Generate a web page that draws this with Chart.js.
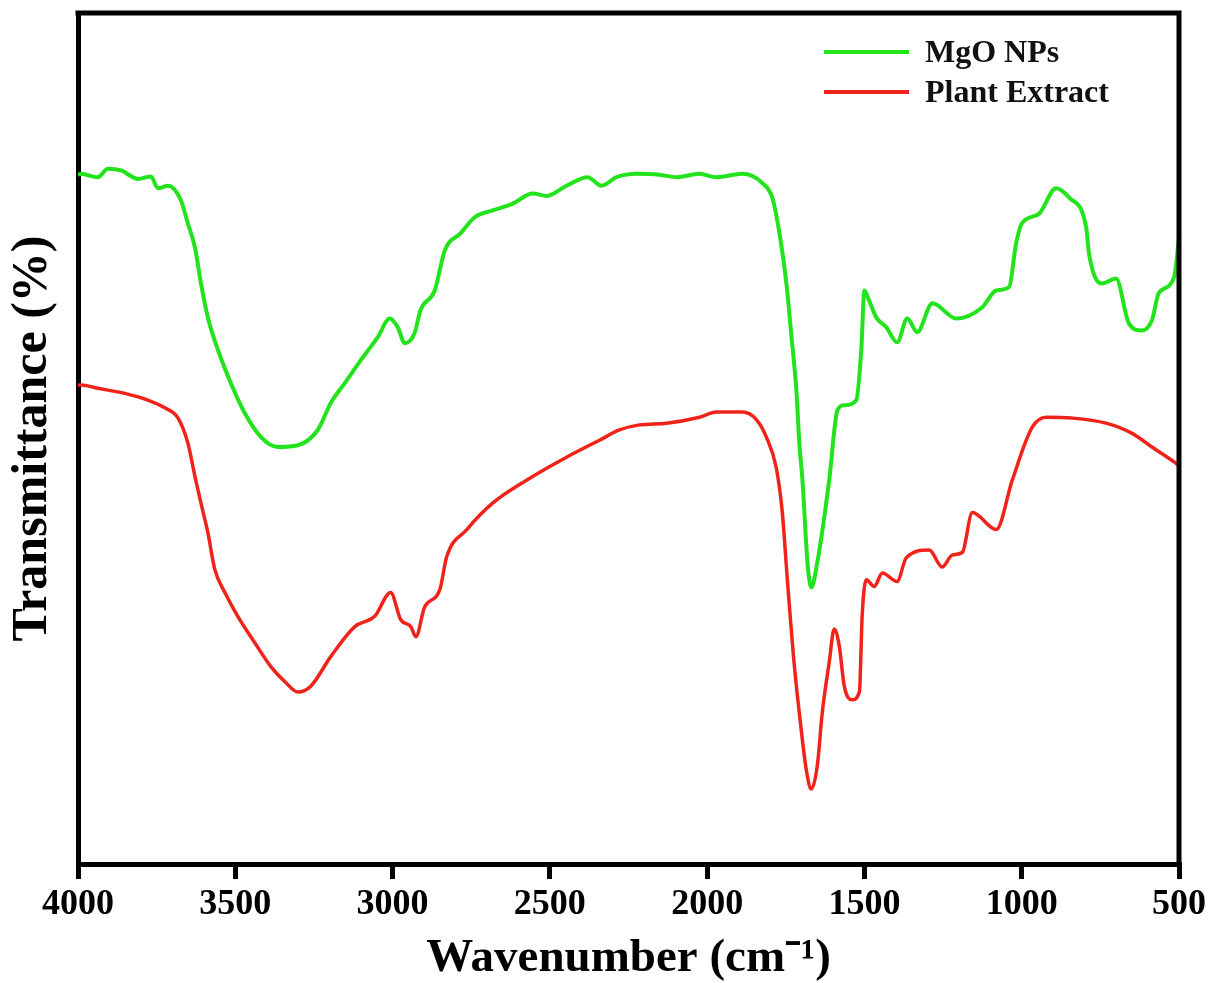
<!DOCTYPE html>
<html>
<head>
<meta charset="utf-8">
<script src="https://cdn.jsdelivr.net/npm/chart.js@4.4.1/dist/chart.umd.min.js"></script>
<style>
  body { margin: 0; background: #fff; }
  #wrap { width: 1210px; height: 983px; }
</style>
</head>
<body>
<div id="wrap"><canvas id="ftirChart" width="1210" height="983"></canvas></div>
<script>
// FTIR spectra, values (transmittance in arbitrary units, 0-100)
const xTicks = [4000, 3500, 3000, 2500, 2000, 1500, 1000, 500];
const seriesNames = ["MgO NPs", "Plant Extract"];

const mgoWave = [4000, 3990, 3937, 3905, 3863, 3809, 3768, 3746, 3714, 3673, 3651, 3628, 3609, 3587, 3555,
  3514, 3470, 3419, 3365, 3301, 3238, 3196, 3152, 3101, 3047, 3009, 2984, 2961, 2930, 2911, 2866, 2834,
  2784, 2739, 2682, 2618, 2555, 2510, 2447, 2380, 2336, 2288, 2225, 2152, 2098, 2024, 1971, 1888, 1824,
  1793, 1770, 1748, 1732, 1716, 1707, 1697, 1681, 1669, 1650, 1612, 1586, 1564, 1526, 1510, 1500, 1485,
  1462, 1431, 1396, 1364, 1332, 1284, 1208, 1126, 1081, 1040, 1018, 999, 945, 891, 849, 795, 786, 745,
  700, 659, 618, 586, 564, 516, 500];
const mgoT = [81.0, 81.1, 80.7, 81.7, 81.5, 80.5, 80.8, 79.4, 79.7, 78.0, 75.3, 72.4, 68.2, 64.2, 60.4,
  56.5, 53.0, 50.2, 49.0, 49.2, 51.0, 54.2, 56.5, 59.2, 61.9, 64.1, 63.1, 61.2, 62.4, 65.1, 67.4, 72.1,
  74.1, 76.0, 76.8, 77.6, 78.8, 78.5, 79.7, 80.7, 79.7, 80.7, 81.1, 81.0, 80.7, 81.1, 80.7, 81.1, 80.0,
  78.3, 74.1, 68.2, 62.0, 55.5, 49.5, 45.1, 35.4, 32.5, 35.4, 45.1, 53.3, 53.9, 54.5, 60.4, 67.4, 66.2,
  64.2, 63.1, 61.3, 64.1, 62.5, 65.9, 64.1, 65.4, 67.4, 67.8, 72.9, 75.3, 76.4, 79.4, 78.3, 74.8, 71.7, 68.2,
  68.8, 63.5, 62.7, 63.9, 67.1, 68.9, 73.5];

const extractWave = [4000, 3990, 3937, 3851, 3778, 3724, 3682, 3651, 3628, 3609, 3587, 3565, 3533, 3492,
  3438, 3387, 3339, 3301, 3260, 3196, 3120, 3057, 3006, 2974, 2942, 2926, 2898, 2850, 2828, 2764, 2682,
  2574, 2447, 2342, 2279, 2215, 2129, 2024, 1971, 1888, 1843, 1812, 1780, 1761, 1745, 1723, 1701, 1685,
  1669, 1650, 1634, 1612, 1596, 1580, 1564, 1539, 1516, 1507, 1494, 1469, 1443, 1396, 1367, 1294, 1253,
  1221, 1189, 1157, 1081, 1030, 967, 922, 840, 732, 649, 586, 510, 500];
const extractT = [56.3, 56.3, 55.9, 55.3, 54.5, 53.6, 52.4, 49.5, 45.5, 42.4, 38.9, 34.6, 31.9, 29.1,
  26.0, 23.2, 21.3, 20.2, 20.9, 24.4, 27.9, 29.1, 31.9, 28.7, 27.9, 26.7, 30.2, 32.2, 36.1, 39.3, 42.4,
  45.1, 47.8, 49.8, 51.0, 51.6, 51.8, 52.5, 53.1, 53.1, 52.2, 50.2, 46.5, 41.3, 33.4, 23.4, 15.8, 11.1,
  8.8, 11.5, 17.8, 23.7, 27.6, 25.6, 20.9, 19.3, 20.2, 29.3, 33.4, 32.6, 34.2, 33.2, 36.0, 36.9, 34.9,
  36.3, 36.6, 41.3, 39.3, 45.1, 51.3, 52.5, 52.4, 51.8, 50.6, 49.0, 47.1, 46.8];

const colors = ["#22e31c", "#f0231a"];
const serif = "'Liberation Serif', 'Times New Roman', serif";

function toPoints(xs, ys) {
  return xs.map((x, i) => ({ x: x, y: ys[i] }));
}

// top and right frame lines plus the legend drawn inside the plot
const framePlugin = {
  id: "frame",
  afterDraw(chart) {
    const ctx = chart.ctx;
    const a = chart.chartArea;
    ctx.save();
    ctx.strokeStyle = "#000";
    ctx.lineWidth = 5;
    ctx.beginPath();
    ctx.moveTo(a.left - 2.5, a.top);
    ctx.lineTo(a.right, a.top);
    ctx.lineTo(a.right, a.bottom);
    ctx.stroke();

    // legend
    const lx = a.right - 355;
    let ly = a.top + 39;
    ctx.font = "bold 32px " + serif;
    ctx.textBaseline = "middle";
    chart.data.datasets.forEach(ds => {
      ctx.strokeStyle = ds.borderColor;
      ctx.lineWidth = 4;
      ctx.beginPath();
      ctx.moveTo(lx, ly);
      ctx.lineTo(lx + 85, ly);
      ctx.stroke();
      ctx.fillStyle = "#111";
      ctx.fillText(ds.label, lx + 101, ly + 2);
      ly += 40;
    });
    ctx.restore();
  }
};

new Chart(document.getElementById("ftirChart"), {
  type: "line",
  data: {
    datasets: [
      {
        label: seriesNames[0],
        data: toPoints(mgoWave, mgoT),
        borderColor: colors[0],
        borderWidth: 4,
        pointRadius: 0,
        cubicInterpolationMode: "monotone"
      },
      {
        label: seriesNames[1],
        data: toPoints(extractWave, extractT),
        borderColor: colors[1],
        borderWidth: 3.5,
        pointRadius: 0,
        cubicInterpolationMode: "monotone"
      }
    ]
  },
  options: {
    responsive: false,
    animation: false,
    layout: { padding: { top: 13, right: 30, left: 0, bottom: 0 } },
    plugins: {
      legend: { display: false },
      tooltip: { enabled: false }
    },
    scales: {
      x: {
        type: "linear",
        reverse: true,
        min: 500,
        max: 4000,
        afterBuildTicks: scale => {
          scale.ticks = xTicks.map(v => ({ value: v }));
        },
        afterFit: scale => { scale.height = 119; },
        ticks: {
          color: "#000",
          font: { family: serif, size: 36, weight: "bold" },
          padding: 4,
          maxRotation: 0,
          autoSkip: false,
          callback: v => String(v)
        },
        grid: {
          drawOnChartArea: false,
          drawTicks: true,
          tickLength: 15,
          lineWidth: 5,
          color: "#000"
        },
        border: { display: true, color: "#000", width: 5 },
        title: {
          display: true,
          text: "Wavenumber (cm\u207B\u00B9)",
          color: "#000",
          font: { family: serif, size: 47, weight: "bold" },
          padding: { top: 0, bottom: -4 }
        }
      },
      y: {
        min: 0,
        max: 100,
        afterFit: scale => { scale.width = 78; },
        ticks: { display: false },
        grid: { display: false, drawTicks: false },
        border: { display: true, color: "#000", width: 5 },
        title: {
          display: true,
          text: "Transmittance (%)",
          color: "#000",
          font: { family: serif, size: 50, weight: "bold" },
          padding: { top: 3, bottom: 0 }
        }
      }
    }
  },
  plugins: [framePlugin]
});
</script>
</body>
</html>
